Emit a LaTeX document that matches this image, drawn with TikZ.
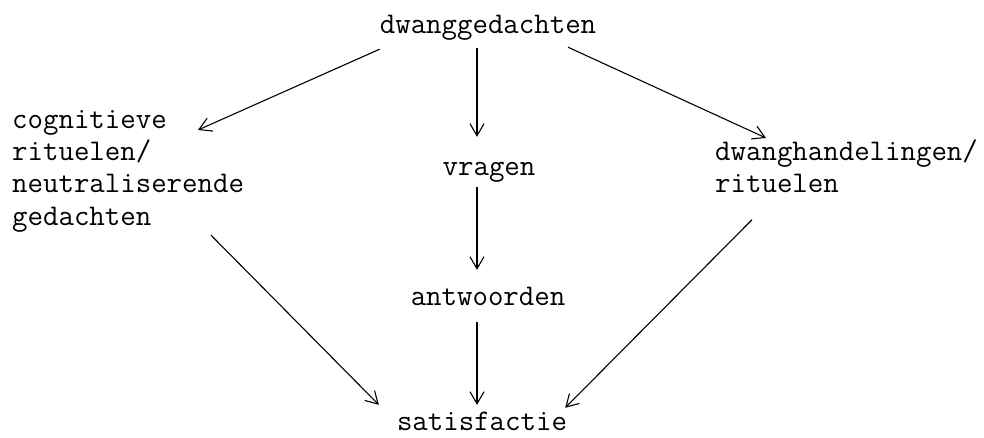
\documentclass[tikz,border=0pt]{standalone}
\usepackage{fontspec}
\usetikzlibrary{arrows.meta,calc}
\tikzset{
  lbl/.style={font=\ttfamily\fontsize{30}{32.3}\selectfont, inner sep=0pt},
  one/.style={lbl, text height=18pt, text depth=7pt},
  arr/.style={-{Straight Barb[length=12pt,width=14pt]}, line width=1.1pt},
}
\begin{document}
\begin{tikzpicture}[x=1pt,y=1pt,yscale=-1]
\useasboundingbox (0,0) rectangle (984,437);

% Text Node
\node[one, anchor=base] (top) at (488,33) {dwanggedachten};
% Text Node
\node[lbl, anchor=north west, align=left] (cogn) at (12,110) {cognitieve\\rituelen/\\neutraliserende\\gedachten};
% Text Node
\node[one, anchor=base] (vragen) at (489,175) {vragen};
% Text Node
\node[lbl, anchor=north west, align=left] (dwangh) at (715,139) {dwanghandelingen/\\rituelen};
% Text Node
\node[one, anchor=base] (antw) at (488,305) {antwoorden};
% Text Node
\node[one, anchor=base] (sat) at (482,430) {satisfactie};

%Straight Lines
\draw[arr] ($(top.south west)+(0,9)$) -- ($(cogn.north west)+(186,20)$);
\draw[arr] ($(top.south)+(-11,8)$) -- ($(vragen.north)+(-12,-20)$);
\draw[arr] ($(top.south)+(80,7)$) -- ($(dwangh.north west)+(51,-1)$);
\draw[arr] ($(vragen.south)+(-12,5)$) -- ($(antw.north)+(-11,-17)$);
\draw[arr] ($(antw.south)+(-11,10)$) -- ($(sat.north)+(-5,-7)$);
\draw[arr] ($(cogn.south west)+(199,3)$) -- ($(sat.north west)+(-18,-7)$);
\draw[arr] ($(dwangh.south west)+(37,27)$) -- ($(sat.north east)+(-2,-4)$);

\end{tikzpicture}
\end{document}
